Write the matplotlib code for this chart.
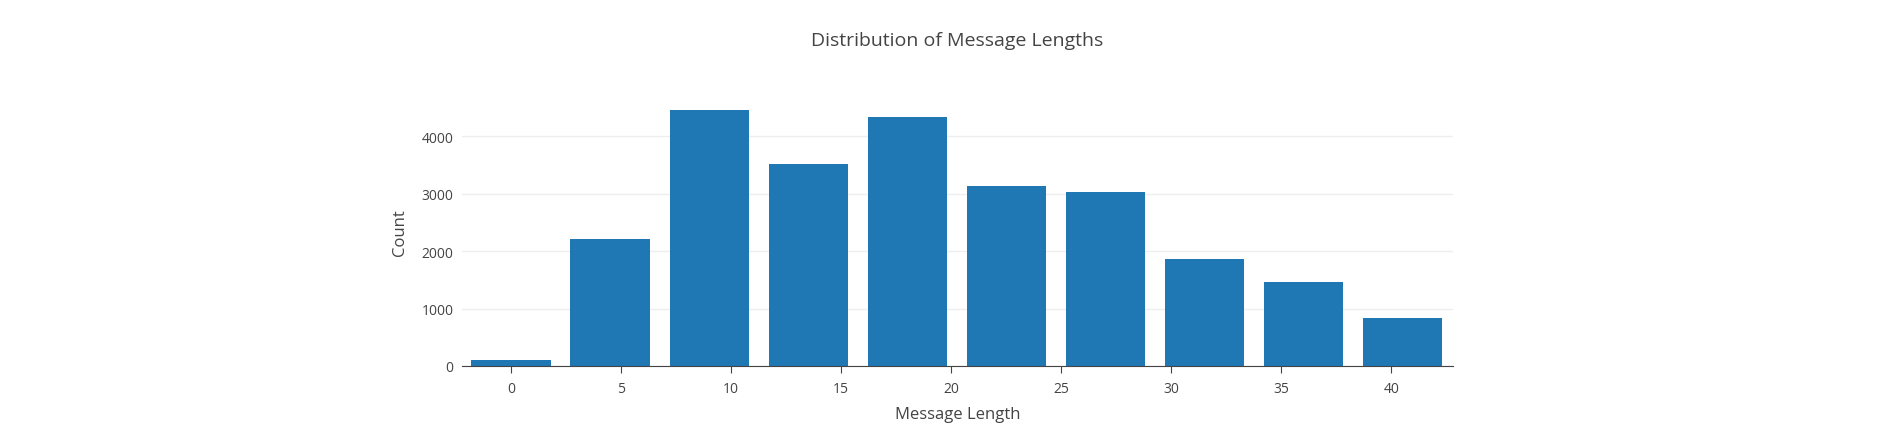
import matplotlib.pyplot as plt

centers = [0, 4.5, 9, 13.5, 18, 22.5, 27, 31.5, 36, 40.5]
counts = [100, 2210, 4450, 3520, 4335, 3130, 3026, 1867, 1467, 835]
ticks = [0, 5, 10, 15, 20, 25, 30, 35, 40]

plt.rcParams['font.family'] = ['Open Sans', 'DejaVu Sans']
fig = plt.figure(figsize=(19.03, 4.31), dpi=100)
W, H = 1903, 431
ax = fig.add_axes([462/W, 1-367/H, (1453-462)/W, (367-98)/H])
ax.bar(centers, counts, width=3.6, color='#1f77b4', zorder=2)
ax.set_xlim(-2.23, 42.8)
ax.set_ylim(0, 4680)
ax.set_xticks(ticks)
ax.set_yticks([0, 1000, 2000, 3000, 4000])
ax.grid(axis='y', color='#eeeeee', lw=1, zorder=0)
for s in ['top', 'right', 'left']:
    ax.spines[s].set_visible(False)
ax.spines['bottom'].set_color('#444444')
ax.tick_params(axis='both', length=0, labelsize=10, colors='#444444', pad=6)
ax.tick_params(axis='x', length=5, color='#444444')
ax.set_ylabel('Count', fontsize=12, color='#444444', labelpad=10)
fig.text((462+1453)/2/W, 1-415/H, 'Message Length', ha='center', va='center', fontsize=12, color='#444444')
fig.text((462+1453)/2/W, 1-41/H, 'Distribution of Message Lengths', ha='center', va='center', fontsize=14, color='#444444')
fig.savefig('out.png')
